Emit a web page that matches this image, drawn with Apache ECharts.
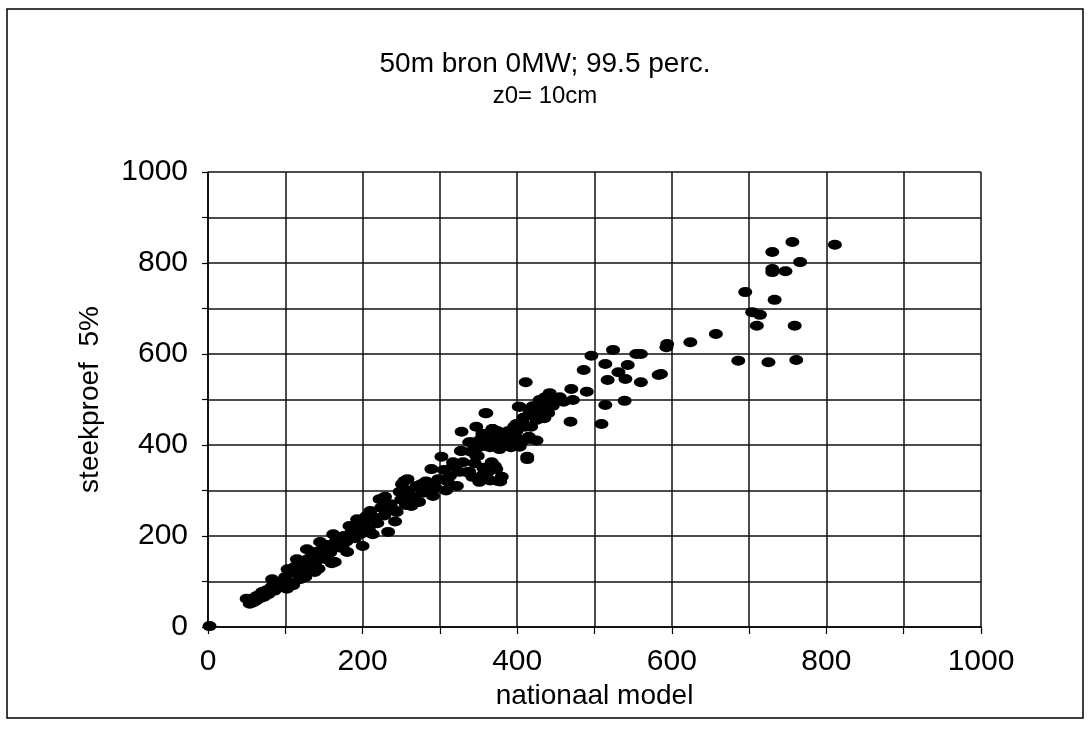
<!DOCTYPE html>
<html>
<head>
<meta charset="utf-8">
<script src="https://cdn.jsdelivr.net/npm/echarts@6/dist/echarts.min.js"></script>
<style>
html,body{margin:0;padding:0;background:#fff;}
#chart{width:1090px;height:733px;}
</style>
</head>
<body>
<div id="chart"></div>
<script>
var titleText = '50m bron 0MW; 99.5 perc.';
var subtitleText = 'z0= 10cm';
var xAxisName = 'nationaal model';
var yAxisName = 'steekproef  5%';
var axisTicks = [0, 200, 400, 600, 800, 1000];

// nationaal model (x) values
var xValues = [
  2, 50, 54, 63, 70, 83, 80, 93, 102, 103, 115, 119, 128, 138, 145, 153, 162, 164, 174, 183, 180, 193, 200, 205, 213, 222, 233, 231, 244, 248, 254, 263,
  55, 58, 60, 62, 66, 68, 72, 75, 78, 82, 86, 88, 90, 95, 97, 100, 105, 108, 110, 112, 117, 120, 123, 126, 130, 133, 136, 140, 143, 147, 150, 155, 158, 160, 166, 170, 176, 179, 186, 190, 195, 198, 203, 208, 210, 216, 219, 224, 228, 236, 240, 242, 250, 256, 260, 266, 270, 273, 278, 282, 285, 295, 298, 305, 308, 310, 320, 322, 330, 335, 340, 345, 350, 356, 360, 362, 365, 370, 378, 388, 390, 396, 400, 408, 410, 418, 420, 425, 430, 436, 440, 445, 455, 460, 380, 378, 365, 356,
  359, 328, 347, 368, 338, 353, 377, 394, 327, 302, 317, 347, 367, 373, 289, 325, 342, 351, 375, 258, 276, 251, 293, 291, 261, 229, 313, 403, 431, 407, 425, 416, 399, 341, 384, 360, 377, 328, 349, 413, 403, 317, 371, 338,
  355, 365, 375, 385, 395, 405, 415, 425, 380, 392,
  524, 554, 560, 496, 514, 543, 486, 531, 583, 517, 540, 560, 411, 470, 490, 442, 429, 472, 539, 514, 446, 402, 433, 416, 360, 435, 469, 509, 399, 368, 413, 403,
  756, 811, 730, 766, 730, 730, 747, 695, 733, 704, 714, 710, 759, 657, 624, 594, 593, 686, 725, 761, 586
];
// steekproef 5% (y) values
var yValues = [
  2, 62, 51, 68, 77, 105, 77, 90, 84, 127, 149, 105, 171, 121, 187, 149, 204, 143, 178, 222, 165, 237, 178, 244, 204, 281, 209, 259, 253, 297, 321, 266,
  58, 54, 64, 58, 62, 72, 66, 80, 72, 88, 80, 95, 86, 100, 88, 110, 98, 120, 92, 132, 115, 140, 128, 110, 150, 135, 165, 145, 128, 170, 158, 180, 163, 140, 192, 175, 200, 188, 210, 195, 225, 205, 232, 215, 255, 240, 228, 262, 245, 270, 258, 232, 280, 268, 300, 285, 310, 275, 295, 320, 300, 305, 325, 345, 300, 320, 352, 310, 362, 340, 385, 360, 395, 350, 420, 340, 395, 410, 405, 430, 410, 440, 415, 460, 440, 440, 485, 455, 480, 505, 470, 500, 505, 495, 330, 320, 322, 335,
  470, 429, 440, 435, 406, 413, 413, 420, 387, 374, 362, 376, 362, 347, 347, 341, 330, 319, 321, 325, 314, 314, 310, 288, 288, 286, 332, 484, 497, 450, 464, 413, 431, 406, 420, 398, 391, 387, 376, 369, 396, 354, 354, 341,
  425, 415, 430, 420, 412, 405, 418, 410, 400, 395,
  609, 600, 600, 596, 578, 576, 565, 560, 554, 543, 545, 538, 538, 523, 517, 514, 499, 499, 497, 488, 486, 484, 481, 472, 470, 459, 451, 446, 446, 435, 374, 398,
  846, 840, 824, 802, 787, 780, 782, 736, 719, 692, 686, 662, 662, 644, 626, 622, 615, 585, 582, 587, 556
];

var points = xValues.map(function (x, i) { return [x, yValues[i]]; });

var chart = echarts.init(document.getElementById('chart'), null, {renderer: 'canvas'});
var font = "'Liberation Sans', Arial, sans-serif";
var tickFmt = function (v) { return axisTicks.indexOf(v) >= 0 ? String(v) : ''; };

chart.setOption({
  animation: false,
  backgroundColor: '#ffffff',
  title: {
    text: titleText,
    subtext: subtitleText,
    left: 'center',
    top: 45,
    itemGap: 6,
    textStyle: {fontFamily: font, fontSize: 28, fontWeight: 'normal', color: '#000'},
    subtextStyle: {fontFamily: font, fontSize: 24, color: '#000'}
  },
  graphic: [{
    type: 'rect',
    shape: {x: 7, y: 9, width: 1076, height: 709},
    style: {fill: 'none', stroke: '#000', lineWidth: 1.5},
    silent: true
  }],
  grid: {left: 208, right: 109, top: 172, bottom: 106, containLabel: false},
  xAxis: {
    type: 'value', min: 0, max: 1000, interval: 100,
    name: xAxisName, nameLocation: 'middle', nameGap: 46,
    nameTextStyle: {fontFamily: font, fontSize: 28, color: '#000'},
    axisLine: {show: true, onZero: false, lineStyle: {color: '#000', width: 1.5}},
    axisTick: {show: true, length: 7, lineStyle: {color: '#000', width: 1.2}},
    axisLabel: {fontFamily: font, fontSize: 30, color: '#000', margin: 20, formatter: tickFmt},
    splitLine: {show: true, lineStyle: {color: '#111', width: 1.5}}
  },
  yAxis: {
    type: 'value', min: 0, max: 1000, interval: 100,
    name: yAxisName, nameLocation: 'middle', nameGap: 104, nameRotate: 90,
    nameTextStyle: {fontFamily: font, fontSize: 28, color: '#000'},
    axisLine: {show: true, onZero: false, lineStyle: {color: '#000', width: 1.5}},
    axisTick: {show: true, length: 6, lineStyle: {color: '#000', width: 1.2}},
    axisLabel: {fontFamily: font, fontSize: 30, color: '#000', margin: 20, formatter: tickFmt},
    splitLine: {show: true, lineStyle: {color: '#111', width: 1.5}}
  },
  series: [{
    type: 'scatter',
    data: points,
    symbol: 'circle',
    symbolSize: [14, 10],
    itemStyle: {color: '#000', opacity: 1},
    clip: false
  }]
});
</script>
</body>
</html>
